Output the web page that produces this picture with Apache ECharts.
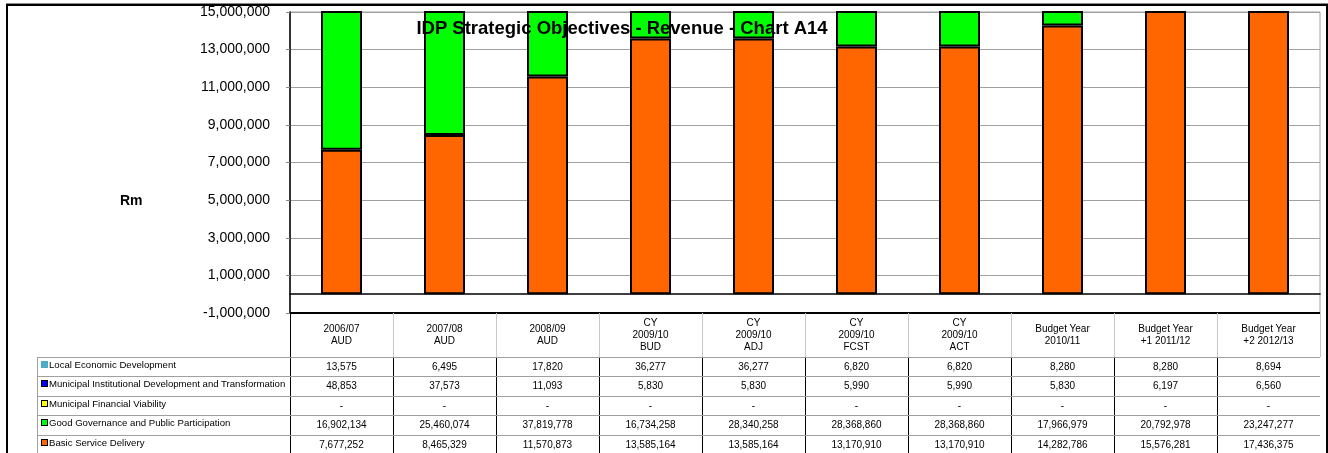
<!DOCTYPE html>
<html>
<head>
<meta charset="utf-8">
<script src="https://cdn.jsdelivr.net/npm/echarts@6/dist/echarts.min.js"></script>
<style>
  body { margin: 0; background: #fff; font-family: "Liberation Sans", Arial, sans-serif; }
  #wrap { position: relative; width: 1328px; height: 453px; overflow: hidden; }
  #frame { position: absolute; left: 6px; top: 4px; width: 1318px; height: 460px; border-left: 2px solid #000; border-top: 2px solid #000; border-right: 2px solid #000; box-shadow: 0 -1px 0 #888; }
  #chart { position: absolute; left: 0; top: 0; width: 1328px; height: 453px; }
  #tbl { position: absolute; left: 0; top: 0; width: 1328px; height: 453px; pointer-events: none; }
  .c { position: absolute; font-size: 10px; color: #000; text-align: center; box-sizing: border-box; }
  .lab { position: absolute; font-size: 9.6px; color: #000; white-space: nowrap; }
  .key { display: inline-block; width: 5px; height: 5px; border: 1px solid #000; margin-right: 1px; vertical-align: 0px; }
  .hl { position: absolute; height: 1px; background: #a0a0a0; }
  .vl { position: absolute; width: 1px; }
</style>
</head>
<body>
<div id="wrap">
  <div id="frame"></div>
  <div id="chart"></div>
  <div id="tbl"></div>
</div>
<script>
var categories = ['2006/07\nAUD', '2007/08\nAUD', '2008/09\nAUD', 'CY\n2009/10\nBUD', 'CY\n2009/10\nADJ',
  'CY\n2009/10\nFCST', 'CY\n2009/10\nACT', 'Budget Year\n2010/11', 'Budget Year\n+1  2011/12', 'Budget Year\n+2  2012/13'];

var basicService = [7677252, 8465329, 11570873, 13585164, 13585164, 13170910, 13170910, 14282786, 15576281, 17436375];
var goodGovernance = [16902134, 25460074, 37819778, 16734258, 28340258, 28368860, 28368860, 17966979, 20792978, 23247277];
var financialViability = [0, 0, 0, 0, 0, 0, 0, 0, 0, 0];
var institutionalDev = [48853, 37573, 11093, 5830, 5830, 5990, 5990, 5830, 6197, 6560];
var localEconomic = [13575, 6495, 17820, 36277, 36277, 6820, 6820, 8280, 8280, 8694];

var yTicks = { min: -1000000, max: 15000000, interval: 2000000 };

// table order (top to bottom) and bar colours
var rows = [
  { name: 'Local Economic Development', data: localEconomic, color: '#4bacc6', border: false },
  { name: 'Municipal Institutional Development and Transformation', data: institutionalDev, color: '#0000ff', border: true },
  { name: 'Municipal Financial Viability', data: financialViability, color: '#ffff00', border: true },
  { name: 'Good Governance and Public Participation', data: goodGovernance, color: '#00ff00', border: true },
  { name: 'Basic Service Delivery', data: basicService, color: '#ff6600', border: true }
];

function fmt(v) {
  if (v === 0) return '-';
  return String(v).replace(/\B(?=(\d{3})+(?!\d))/g, ',');
}

var gridL = 290, gridR = 8, gridT = 12, gridB = 140;

var myChart = echarts.init(document.getElementById('chart'));
var series = rows.slice().reverse().map(function(r) {
  return {
    name: r.name,
    type: 'bar',
    stack: 'total',
    barWidth: 41,
    data: r.data,
    itemStyle: { color: r.color, borderColor: '#000', borderWidth: 2 },
    z: 2
  };
});

option = {
  animation: false,
  title: {
    text: 'IDP Strategic Objectives - Revenue - Chart A14',
    left: 617, top: 14, textAlign: 'center',
    textStyle: { fontFamily: 'Liberation Sans', fontSize: 18.5, fontWeight: 'bold', color: '#000' },
    z: 10
  },
  graphic: [{
    type: 'text', left: 120, top: 194,
    style: { text: 'Rm', font: 'bold 14px "Liberation Sans"', fill: '#000' }
  }],
  grid: { left: gridL, right: gridR, top: gridT, bottom: gridB, show: true, borderColor: '#a0a0a0', borderWidth: 1 },
  xAxis: {
    type: 'category',
    data: categories,
    axisLine: { onZero: true, lineStyle: { color: '#000', width: 1.5 } },
    axisTick: { show: false },
    axisLabel: { show: false }
  },
  yAxis: {
    type: 'value',
    min: yTicks.min, max: yTicks.max, interval: yTicks.interval,
    axisLine: { show: true, lineStyle: { color: '#000', width: 1.5 } },
    axisTick: { show: true, inside: false, length: 4, lineStyle: { color: '#888' } },
    axisLabel: {
      fontFamily: 'Liberation Sans', fontSize: 14, color: '#000', margin: 20,
      formatter: function(v) { return v < 0 ? '-' + fmt(-v) : fmt(v); }
    },
    splitLine: { show: true, lineStyle: { color: '#a0a0a0', width: 1 } }
  },
  series: series
};
myChart.setOption(option);

// data table under the plot, aligned to the category columns
var tbl = document.getElementById('tbl');
var plotBottom = 453 - gridB;
var colW = (1328 - gridL - gridR) / categories.length;
var headH = 44, rowH = 19.4, labelLeft = 37;
var html = '';
// bottom border of plot area
html += '<div class="hl" style="left:' + gridL + 'px;top:' + (plotBottom - 1) + 'px;width:' + (1328 - gridL - gridR) + 'px;height:2px;background:#000"></div>';
categories.forEach(function(c, i) {
  var x = gridL + i * colW;
  var lines = c.split('\n');
  html += '<div class="c" style="left:' + x + 'px;top:' + (plotBottom + (headH - lines.length * 12) / 2) + 'px;width:' + colW + 'px;line-height:12px">' + lines.join('<br>') + '</div>';
  if (i > 0) {
    html += '<div class="vl" style="left:' + Math.round(x) + 'px;top:' + plotBottom + 'px;height:' + headH + 'px;background:#c8c8c8"></div>';
  }
  html += '<div class="vl" style="left:' + Math.round(x) + 'px;top:' + (plotBottom + headH) + 'px;height:' + (rows.length * rowH + 2) + 'px;background:#000"></div>';
});
html += '<div class="vl" style="left:' + gridL + 'px;top:' + plotBottom + 'px;height:' + headH + 'px;background:#000"></div>';
html += '<div class="vl" style="left:' + (1328 - gridR) + 'px;top:' + plotBottom + 'px;height:' + headH + 'px;background:#c8c8c8"></div>';
html += '<div class="vl" style="left:' + labelLeft + 'px;top:' + (plotBottom + headH) + 'px;height:' + (rows.length * rowH + 2) + 'px;background:#a0a0a0"></div>';
rows.forEach(function(r, j) {
  var y = plotBottom + headH + j * rowH;
  html += '<div class="hl" style="left:' + labelLeft + 'px;top:' + Math.round(y) + 'px;width:' + (1328 - gridR - labelLeft) + 'px"></div>';
  var key = '<span class="key" style="background:' + r.color + ';' + (r.border ? '' : 'border-color:' + r.color) + '"></span>';
  html += '<div class="lab" style="left:' + (labelLeft + 4) + 'px;top:' + (y + 1) + 'px;line-height:14px">' + key + r.name + '</div>';
  r.data.forEach(function(v, i) {
    html += '<div class="c" style="left:' + (gridL + i * colW) + 'px;top:' + (y + 3) + 'px;width:' + colW + 'px;line-height:14px">' + fmt(v) + '</div>';
  });
});
tbl.innerHTML = html;
</script>
</body>
</html>
